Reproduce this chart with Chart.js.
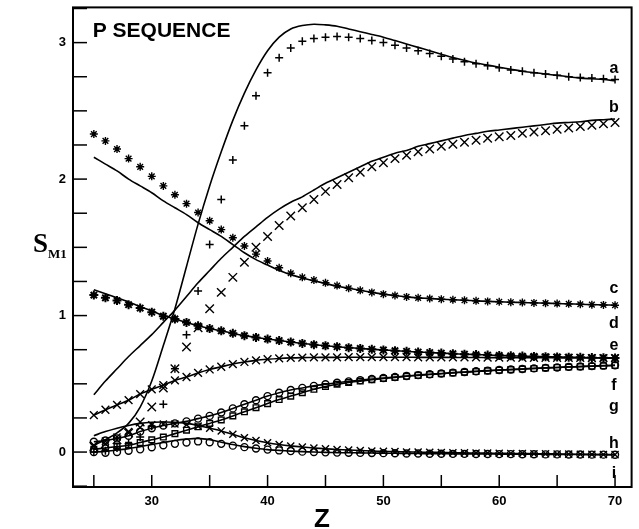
<!DOCTYPE html>
<html>
<head>
<meta charset="utf-8">
<title>P SEQUENCE</title>
<script src="https://cdn.jsdelivr.net/npm/chart.js@4.4.0/dist/chart.umd.min.js"></script>
<style>
  html, body { margin: 0; padding: 0; background: #fff; }
  #wrap { width: 639px; height: 529px; }
</style>
</head>
<body>
<div id="wrap"><canvas id="smChart" width="639" height="529"></canvas></div>
<script>
// Z values (atomic number), one point per element
const zValues = [25, 26, 27, 28, 29, 30, 31, 32, 33, 34, 35, 36, 37, 38, 39, 40, 41, 42, 43, 44, 45, 46, 47,
                 48, 49, 50, 51, 52, 53, 54, 55, 56, 57, 58, 59, 60, 61, 62, 63, 64, 65, 66, 67, 68, 69, 70];

// measured points (markers)
const aMarks = [0.00, 0.01, 0.03, 0.06, 0.11, 0.19, 0.35, 0.61, 0.86, 1.18, 1.52, 1.85, 2.14, 2.39, 2.61, 2.78,
                2.89, 2.96, 3.01, 3.03, 3.04, 3.045, 3.04, 3.03, 3.015, 3.00, 2.98, 2.96, 2.94, 2.92, 2.90,
                2.88, 2.86, 2.845, 2.83, 2.815, 2.80, 2.79, 2.78, 2.77, 2.76, 2.75, 2.745, 2.74, 2.735, 2.73];
const bMarks = [0.04, 0.06, 0.09, 0.14, 0.22, 0.33, 0.47, 0.61, 0.77, 0.91, 1.05, 1.17, 1.28, 1.39, 1.50, 1.58,
                1.66, 1.73, 1.79, 1.85, 1.91, 1.96, 2.01, 2.05, 2.09, 2.12, 2.15, 2.175, 2.20, 2.22, 2.24,
                2.255, 2.27, 2.285, 2.30, 2.31, 2.32, 2.335, 2.345, 2.355, 2.365, 2.375, 2.385, 2.395, 2.405, 2.415];
const cMarks = [2.33, 2.28, 2.22, 2.15, 2.09, 2.02, 1.95, 1.885, 1.82, 1.755, 1.695, 1.63, 1.57, 1.51, 1.45, 1.40,
                1.35, 1.31, 1.28, 1.26, 1.24, 1.22, 1.20, 1.185, 1.17, 1.157, 1.147, 1.137, 1.13, 1.125, 1.12,
                1.116, 1.112, 1.108, 1.104, 1.101, 1.098, 1.096, 1.093, 1.091, 1.088, 1.086, 1.083, 1.08, 1.078, 1.076];
const dMarks = [1.15, 1.13, 1.11, 1.08, 1.055, 1.025, 0.995, 0.975, 0.95, 0.925, 0.905, 0.888, 0.87, 0.853, 0.84, 0.828,
                0.817, 0.806, 0.796, 0.787, 0.779, 0.772, 0.765, 0.759, 0.753, 0.748, 0.743, 0.738, 0.733, 0.729, 0.725,
                0.721, 0.717, 0.714, 0.711, 0.708, 0.705, 0.703, 0.701, 0.699, 0.697, 0.695, 0.694, 0.692, 0.691, 0.69];
const eMarks = [0.27, 0.31, 0.345, 0.38, 0.425, 0.46, 0.49, 0.525, 0.55, 0.58, 0.605, 0.625, 0.645, 0.66, 0.672, 0.68,
                0.686, 0.69, 0.692, 0.693, 0.694, 0.694, 0.695, 0.695, 0.695, 0.695, 0.695, 0.695, 0.694, 0.694, 0.694,
                0.693, 0.693, 0.693, 0.692, 0.692, 0.692, 0.691, 0.691, 0.691, 0.69, 0.69, 0.69, 0.689, 0.689, 0.688];
const fMarks = [0.075, 0.085, 0.10, 0.12, 0.15, 0.175, 0.195, 0.21, 0.225, 0.245, 0.265, 0.29, 0.32, 0.35, 0.38, 0.41,
                0.435, 0.455, 0.47, 0.485, 0.497, 0.508, 0.518, 0.527, 0.535, 0.543, 0.55, 0.557, 0.564, 0.57, 0.576,
                0.582, 0.587, 0.592, 0.597, 0.601, 0.605, 0.609, 0.613, 0.617, 0.62, 0.624, 0.627, 0.63, 0.633, 0.636];
const gMarks = [0.02, 0.03, 0.04, 0.05, 0.07, 0.09, 0.11, 0.135, 0.16, 0.185, 0.21, 0.235, 0.265, 0.295, 0.325, 0.355,
                0.385, 0.41, 0.435, 0.46, 0.48, 0.497, 0.51, 0.52, 0.53, 0.539, 0.547, 0.555, 0.562, 0.568, 0.574,
                0.58, 0.585, 0.59, 0.595, 0.60, 0.604, 0.608, 0.612, 0.616, 0.62, 0.623, 0.626, 0.629, 0.632, 0.635];
const hMarks = [0.05, 0.08, 0.11, 0.15, 0.18, 0.20, 0.205, 0.205, 0.20, 0.19, 0.175, 0.155, 0.13, 0.105, 0.085, 0.068,
                0.055, 0.045, 0.037, 0.03, 0.024, 0.019, 0.015, 0.011, 0.008, 0.005, 0.003, 0.001, 0.0, -0.002, -0.003,
                -0.005, -0.006, -0.007, -0.008, -0.009, -0.01, -0.011, -0.012, -0.013, -0.014, -0.015, -0.016, -0.017, -0.018, -0.019];
const iMarks = [0.0, -0.005, 0.0, 0.01, 0.02, 0.035, 0.05, 0.06, 0.07, 0.078, 0.072, 0.06, 0.047, 0.036, 0.026, 0.018,
                0.012, 0.007, 0.003, 0.0, -0.002, -0.004, -0.005, -0.006, -0.007, -0.008, -0.009, -0.01, -0.011, -0.012, -0.012,
                -0.013, -0.013, -0.014, -0.014, -0.015, -0.015, -0.016, -0.016, -0.017, -0.017, -0.018, -0.018, -0.019, -0.019, -0.02];

// calculated curves (solid lines); e, f and g run through their markers
const aLine = [0.05, 0.09, 0.14, 0.21, 0.33, 0.52, 0.78, 1.05, 1.36, 1.67, 1.95, 2.20, 2.43, 2.63, 2.80, 2.94,
               3.04, 3.10, 3.125, 3.135, 3.13, 3.12, 3.10, 3.08, 3.06, 3.04, 3.015, 2.99, 2.965, 2.94, 2.915,
               2.89, 2.87, 2.85, 2.835, 2.82, 2.805, 2.79, 2.78, 2.77, 2.76, 2.75, 2.74, 2.735, 2.73, 2.72];
const bLine = [0.42, 0.52, 0.61, 0.70, 0.78, 0.86, 0.95, 1.04, 1.14, 1.24, 1.33, 1.42, 1.50, 1.58, 1.65, 1.72,
               1.78, 1.83, 1.87, 1.92, 1.97, 2.01, 2.05, 2.09, 2.13, 2.16, 2.19, 2.21, 2.24, 2.26, 2.28,
               2.30, 2.32, 2.335, 2.35, 2.36, 2.37, 2.38, 2.39, 2.40, 2.41, 2.415, 2.42, 2.43, 2.435, 2.44];
const cLine = [2.16, 2.11, 2.06, 2.00, 1.95, 1.90, 1.84, 1.79, 1.74, 1.68, 1.63, 1.58, 1.52, 1.46, 1.41, 1.37,
               1.33, 1.30, 1.275, 1.255, 1.235, 1.215, 1.20, 1.185, 1.17, 1.157, 1.147, 1.137, 1.13, 1.125, 1.12,
               1.116, 1.112, 1.108, 1.104, 1.101, 1.098, 1.096, 1.093, 1.091, 1.088, 1.086, 1.083, 1.08, 1.078, 1.076];
const dLine = [1.19, 1.16, 1.13, 1.10, 1.065, 1.035, 1.00, 0.975, 0.95, 0.925, 0.905, 0.888, 0.87, 0.853, 0.84, 0.828,
               0.817, 0.806, 0.796, 0.787, 0.779, 0.772, 0.765, 0.759, 0.753, 0.748, 0.743, 0.738, 0.733, 0.729, 0.725,
               0.721, 0.717, 0.714, 0.711, 0.708, 0.705, 0.703, 0.701, 0.699, 0.697, 0.695, 0.694, 0.692, 0.691, 0.69];
const hLine = [0.12, 0.15, 0.175, 0.195, 0.21, 0.218, 0.22, 0.218, 0.21, 0.195, 0.175, 0.155, 0.13, 0.105, 0.085, 0.068,
               0.055, 0.045, 0.037, 0.03, 0.024, 0.019, 0.015, 0.011, 0.008, 0.005, 0.003, 0.001, 0.0, -0.002, -0.003,
               -0.005, -0.006, -0.007, -0.008, -0.009, -0.01, -0.011, -0.012, -0.013, -0.014, -0.015, -0.016, -0.017, -0.018, -0.019];
const iLine = [0.0, 0.005, 0.015, 0.025, 0.04, 0.055, 0.07, 0.085, 0.095, 0.10, 0.09, 0.072, 0.055, 0.04, 0.028, 0.018,
               0.012, 0.007, 0.003, 0.0, -0.002, -0.004, -0.005, -0.006, -0.007, -0.008, -0.009, -0.01, -0.011, -0.012, -0.012,
               -0.013, -0.013, -0.014, -0.014, -0.015, -0.015, -0.016, -0.016, -0.017, -0.017, -0.018, -0.018, -0.019, -0.019, -0.02];

// axis ticks: marks every 5 on Z, every 0.25 on S; labels only on these
const xTickLabels = [30, 40, 50, 60, 70];
const yTickLabels = [0, 1, 2, 3];
const curveNames = ['a', 'b', 'c', 'd', 'e', 'f', 'g', 'h', 'i'];

function pts(vals) {
    return zValues.map((z, k) => ({ x: z, y: vals[k] }));
}

function marks(label, vals, style, r, bw, withLine) {
    return {
        label: label, data: pts(vals), showLine: !!withLine,
        borderColor: '#000', backgroundColor: 'rgba(0,0,0,0)', borderWidth: 1.6,
        pointStyle: style, pointRadius: r, pointBorderWidth: bw, pointBorderColor: '#000',
        pointBackgroundColor: 'rgba(0,0,0,0)', tension: 0.3
    };
}

function curve(label, vals) {
    return {
        label: label, data: pts(vals), showLine: true, pointRadius: 0,
        borderColor: '#000', borderWidth: 1.6, tension: 0.3
    };
}

// where the curve letters sit (in data units)
const letterPos = [2.775, 2.49, 1.165, 0.908, 0.747, 0.454, 0.30, 0.03, -0.19];

const decorPlugin = {
    id: 'decor',
    afterDraw: function(chart) {
        const ctx = chart.ctx;
        const area = chart.chartArea;
        const xs = chart.scales.x;
        const ys = chart.scales.y;
        ctx.save();
        ctx.strokeStyle = '#000';
        ctx.fillStyle = '#000';
        ctx.lineWidth = 2;
        ctx.strokeRect(area.left, area.top, area.right - area.left, area.bottom - area.top);

        // inward tick marks
        ctx.lineWidth = 1.5;
        xs.ticks.forEach(function(t) {
            const px = xs.getPixelForValue(t.value);
            ctx.beginPath();
            ctx.moveTo(px, area.bottom);
            ctx.lineTo(px, area.bottom - 12);
            ctx.stroke();
        });
        ys.ticks.forEach(function(t) {
            const py = ys.getPixelForValue(t.value);
            ctx.beginPath();
            ctx.moveTo(area.left, py);
            ctx.lineTo(area.left + 14, py);
            ctx.stroke();
        });

        // curve letters on the right
        ctx.font = 'bold 16px "Liberation Sans", Arial, sans-serif';
        ctx.textAlign = 'center';
        ctx.textBaseline = 'alphabetic';
        curveNames.forEach(function(n, k) {
            ctx.fillText(n, xs.getPixelForValue(69.9), ys.getPixelForValue(letterPos[k]));
        });

        // title inside the frame
        ctx.textAlign = 'left';
        ctx.font = 'bold 21px "Liberation Sans", Arial, sans-serif';
        ctx.fillText('P SEQUENCE', xs.getPixelForValue(24.9), ys.getPixelForValue(3.04));

        // axis names
        ctx.textAlign = 'center';
        ctx.font = 'bold 26px "Liberation Sans", Arial, sans-serif';
        ctx.fillText('Z', xs.getPixelForValue(44.7), 527);
        ctx.textAlign = 'left';
        ctx.font = 'bold 27px "Liberation Serif", "Times New Roman", serif';
        ctx.fillText('S', 33, 252);
        ctx.font = 'bold 13px "Liberation Serif", "Times New Roman", serif';
        ctx.fillText('M1', 48, 258);
        ctx.restore();
    }
};

document.addEventListener("DOMContentLoaded", function() {
    const ctx = document.getElementById('smChart').getContext('2d');
    const tickFont = { family: '"Liberation Sans", Arial, sans-serif', size: 13, weight: 'bold' };

    const smChart = new Chart(ctx, {
        type: 'scatter',
        data: {
            datasets: [
                curve('a calc', aLine),
                curve('b calc', bLine),
                curve('c calc', cLine),
                curve('d calc', dLine),
                curve('h calc', hLine),
                curve('i calc', iLine),
                marks('a', aMarks, 'cross', 4, 1.5, false),
                marks('b', bMarks, 'crossRot', 6, 1.4, false),
                marks('c', cMarks, 'star', 4, 1.4, false),
                marks('d', dMarks, 'star', 4.5, 2, false),
                marks('e', eMarks, 'crossRot', 5.5, 1.4, true),
                marks('f', fMarks, 'circle', 3.5, 1.4, true),
                marks('g', gMarks, 'rect', 4, 1.4, true),
                marks('h', hMarks, 'crossRot', 5, 1.4, false),
                marks('i', iMarks, 'circle', 3.5, 1.4, false)
            ]
        },
        options: {
            responsive: false,
            animation: false,
            devicePixelRatio: 1,
            layout: { padding: { top: 7, right: 4, left: 0, bottom: 0 } },
            plugins: { legend: { display: false }, tooltip: { enabled: false } },
            scales: {
                x: {
                    type: 'linear', min: 23.2, max: 71.43,
                    grid: { display: false, drawTicks: false },
                    border: { display: false },
                    afterFit: function(s) { s.height = 42; s.paddingLeft = 0; s.paddingRight = 0; },
                    ticks: {
                        stepSize: 5, includeBounds: false, autoSkip: false, maxRotation: 0,
                        padding: 7, color: '#000', font: tickFont,
                        callback: function(v) { return xTickLabels.includes(v) ? String(v) : ''; }
                    }
                },
                y: {
                    type: 'linear', min: -0.256, max: 3.258,
                    grid: { display: false, drawTicks: false },
                    border: { display: false },
                    afterFit: function(s) { s.width = 73; s.paddingTop = 0; s.paddingBottom = 0; },
                    ticks: {
                        stepSize: 0.25, includeBounds: false, autoSkip: false,
                        padding: 7, color: '#000', font: tickFont,
                        callback: function(v) { return yTickLabels.includes(v) ? String(v) : ''; }
                    }
                }
            }
        },
        plugins: [decorPlugin]
    });
});
</script>
</body>
</html>
